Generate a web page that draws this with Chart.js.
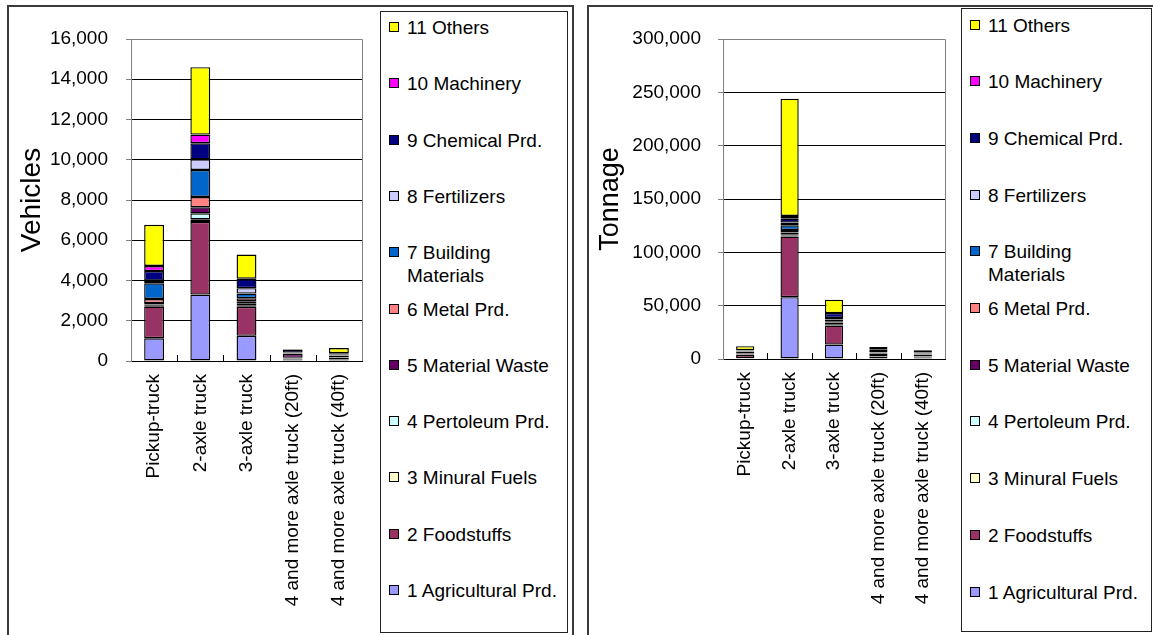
<!DOCTYPE html>
<html>
<head>
<meta charset="utf-8">
<script src="https://cdn.jsdelivr.net/npm/chart.js@4.4.1/dist/chart.umd.min.js"></script>
<style>
  body { margin: 0; background: #fff; width: 1153px; height: 635px; overflow: hidden; position: relative;
         font-family: "Liberation Sans", Arial, sans-serif; }
  .panel { position: absolute; border: 2px solid #3a3a3a; box-sizing: border-box; }
  .legend { position: absolute; border: 1px solid #222; box-sizing: border-box; background: #fff; }
  .item { position: absolute; font-size: 19px; line-height: 23px; color: #000; max-width: 158px; }
  .item i { position: absolute; left: -18px; top: 6px; width: 10px; height: 10px;
            border: 1px solid #000; box-sizing: border-box; }
  canvas { position: absolute; }
</style>
</head>
<body>
<div class="panel" style="left:7px; top:5px; width:567px; height:650px;"></div>
<div class="panel" style="left:587px; top:5px; width:600px; height:650px;"></div>

<canvas id="vehChart" width="370" height="624" style="left:8px; top:8px;"></canvas>
<canvas id="tonChart" width="368" height="624" style="left:590px; top:8px;"></canvas>

<div class="legend" id="vehLegend" style="left:380px; top:11px; width:188px; height:622px;"></div>
<div class="legend" id="tonLegend" style="left:961px; top:8px; width:191px; height:624px;"></div>

<script>
// ---- categories & series ----
const categories = ['Pickup-truck', '2-axle truck', '3-axle truck',
  '4 and more axle truck (20ft)', '4 and more axle truck (40ft)'];

const seriesNames = ['1 Agricultural Prd.', '2 Foodstuffs', '3 Minural Fuels', '4 Pertoleum Prd.',
  '5 Material Waste', '6 Metal Prd.', '7 Building Materials', '8 Fertilizers',
  '9 Chemical Prd.', '10 Machinery', '11 Others'];

const seriesColors = ['#9999FF', '#993366', '#FFFFCC', '#CCFFFF', '#660066', '#FF8080',
  '#0066CC', '#CCCCFF', '#000080', '#FF00FF', '#FFFF00'];

// ---- vehicles per commodity ----
const vehAgricultural = [1130, 3300, 1250, 80, 80];
const vehFoodstuffs   = [1570, 3610, 1440, 40, 80];
const vehMinural      = [40, 130, 50, 20, 20];
const vehPetroleum    = [70, 300, 130, 20, 20];
const vehWaste        = [70, 300, 100, 200, 60];
const vehMetal        = [200, 510, 150, 20, 20];
const vehBuilding     = [780, 1340, 230, 20, 20];
const vehFertilizers  = [130, 530, 270, 20, 20];
const vehChemical     = [480, 800, 450, 150, 60];
const vehMachinery    = [250, 430, 20, 10, 10];
const vehOthers       = [2050, 3350, 1200, 20, 250];

// ---- tonnage per commodity ----
const tonAgricultural = [800, 58000, 13500, 1000, 1500];
const tonFoodstuffs   = [3100, 56800, 17800, 800, 800];
const tonMinural      = [200, 1000, 800, 200, 200];
const tonPetroleum    = [300, 1200, 600, 300, 300];
const tonWaste        = [400, 1500, 1500, 2500, 1200];
const tonMetal        = [400, 2500, 800, 300, 300];
const tonBuilding     = [1500, 4400, 2000, 800, 800];
const tonFertilizers  = [300, 2500, 1500, 300, 300];
const tonChemical     = [900, 3700, 4600, 2300, 800];
const tonMachinery    = [300, 2500, 0, 200, 0];
const tonOthers       = [3800, 110000, 12500, 2500, 1900];

// ---- y axis ticks ----
const vehTicks = [0, 2000, 4000, 6000, 8000, 10000, 12000, 14000, 16000];
const tonTicks = [0, 50000, 100000, 150000, 200000, 250000, 300000];

const vehSeries = [vehAgricultural, vehFoodstuffs, vehMinural, vehPetroleum, vehWaste, vehMetal,
  vehBuilding, vehFertilizers, vehChemical, vehMachinery, vehOthers];
const tonSeries = [tonAgricultural, tonFoodstuffs, tonMinural, tonPetroleum, tonWaste, tonMetal,
  tonBuilding, tonFertilizers, tonChemical, tonMachinery, tonOthers];

const FONT = '"Liberation Sans", Arial, sans-serif';

// grey frame on top/right of plot + small inner ticks between categories
const plotFrame = {
  id: 'plotFrame',
  afterDraw(chart) {
    const { ctx, chartArea: a, scales: { x } } = chart;
    ctx.save();
    ctx.lineWidth = 1;
    ctx.strokeStyle = '#808080';
    ctx.beginPath();
    ctx.moveTo(a.left, Math.round(a.top) + 0.5);
    ctx.lineTo(Math.round(a.right) + 0.5, Math.round(a.top) + 0.5);
    ctx.lineTo(Math.round(a.right) + 0.5, a.bottom);
    ctx.stroke();
    ctx.strokeStyle = '#000';
    ctx.beginPath();
    for (let i = 1; i < categories.length; i++) {
      const px = Math.round((x.getPixelForValue(i - 1) + x.getPixelForValue(i)) / 2) + 0.5;
      ctx.moveTo(px, a.bottom);
      ctx.lineTo(px, a.bottom - 6);
    }
    ctx.stroke();
    ctx.restore();
  }
};

function makeChart(id, series, ticks, o) {
  return new Chart(document.getElementById(id), {
    type: 'bar',
    data: {
      labels: categories,
      datasets: series.map((vals, i) => ({
        label: seriesNames[i],
        data: vals,
        backgroundColor: seriesColors[i],
        borderColor: '#000',
        borderWidth: 1.4,
        borderSkipped: false,
        barPercentage: o.barPct,
        categoryPercentage: 1
      }))
    },
    options: {
      responsive: false,
      animation: false,
      devicePixelRatio: 1,
      layout: { padding: { top: 31, right: o.padRight, left: 0, bottom: 0 } },
      plugins: { legend: { display: false }, tooltip: { enabled: false } },
      scales: {
        x: {
          stacked: true,
          grid: { display: false },
          border: { display: true, color: '#000', width: 1 },
          ticks: {
            autoSkip: false, minRotation: 90, maxRotation: 90, padding: 5,
            color: '#000', font: { family: FONT, size: 19 }
          },
          afterFit(s) { s.height = o.xHeight; }
        },
        y: {
          stacked: true,
          min: ticks[0],
          max: ticks[ticks.length - 1],
          grid: { color: '#000', lineWidth: 1, tickLength: 5, tickColor: '#808080' },
          border: { display: true, color: '#808080', width: 1 },
          ticks: {
            stepSize: ticks[1] - ticks[0], padding: o.tickPad, color: '#000',
            font: { family: FONT, size: 19 },
            callback: v => v.toLocaleString('en-US')
          },
          title: {
            display: true, text: o.title, color: '#000',
            font: { family: FONT, size: o.titleSize },
            padding: { top: o.titlePad, bottom: 0 }
          },
          afterFit(s) { s.width = o.yWidth; }
        }
      }
    },
    plugins: [plotFrame]
  });
}

function buildLegend(boxId, textLeft, firstY, gap) {
  const box = document.getElementById(boxId);
  const r = box.getBoundingClientRect();
  for (let k = 0; k < seriesNames.length; k++) {
    const idx = seriesNames.length - 1 - k;
    const el = document.createElement('div');
    el.className = 'item';
    el.style.left = (textLeft - r.left - 1) + 'px';
    el.style.top = (firstY + k * gap - 11.5 - r.top - 1) + 'px';
    const sw = document.createElement('i');
    sw.style.background = seriesColors[idx];
    el.appendChild(sw);
    el.appendChild(document.createTextNode(seriesNames[idx]));
    box.appendChild(el);
  }
}

makeChart('vehChart', vehSeries, vehTicks,
  { barPct: 0.43, padRight: 16, xHeight: 271, yWidth: 123, tickPad: 18,
    title: 'Vehicles', titleSize: 28, titlePad: 7 });
makeChart('tonChart', tonSeries, tonTicks,
  { barPct: 0.41, padRight: 13, xHeight: 273, yWidth: 133, tickPad: 17,
    title: 'Tonnage', titleSize: 27, titlePad: 4 });

buildLegend('vehLegend', 407, 27.5, 56.3);
buildLegend('tonLegend', 988, 25, 56.7);
</script>
</body>
</html>
